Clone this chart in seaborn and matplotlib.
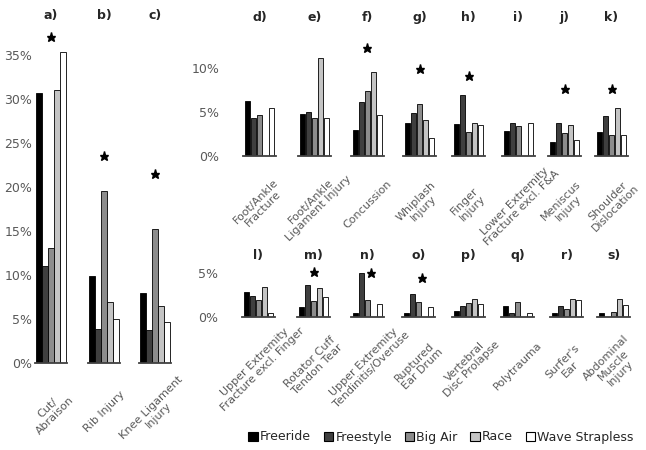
import pandas as pd
import matplotlib.pyplot as plt
import seaborn as sns
from matplotlib.patches import Patch

sns.set_style('white')
plt.rcParams['font.family'] = ['DejaVu Sans']

# --- data (percent of injuries per discipline) ---
panels = ['a)', 'b)', 'c)', 'd)', 'e)', 'f)', 'g)', 'h)', 'i)', 'j)', 'k)',
          'l)', 'm)', 'n)', 'o)', 'p)', 'q)', 'r)', 's)']
injuries = ['Cut/\nAbraison', 'Rib Injury', 'Knee Ligament\nInjury',
            'Foot/Ankle\nFracture', 'Foot/Ankle\nLigament Injury', 'Concussion',
            'Whiplash\nInjury', 'Finger\nInjury', 'Lower Extremity\nFracture excl. F&A',
            'Meniscus\nInjury', 'Shoulder\nDislocation',
            'Upper Extremity\nFracture excl. Finger', 'Rotator Cuff\nTendon Tear',
            'Upper Extremity\nTendinitis/Overuse', 'Ruptured\nEar Drum',
            'Vertebral\nDisc Prolapse', 'Polytrauma', "Surfer's\nEar",
            'Abdominal\nMuscle\nInjury']
disciplines = ['Freeride', 'Freestyle', 'Big Air', 'Race', 'Wave Strapless']
freeride = [30.7, 9.9, 8.0, 6.3, 4.8, 3.0, 3.7, 3.6, 2.8, 1.6, 2.7,
            2.9, 1.1, 0.5, 0.5, 0.7, 1.3, 0.5, 0.5]
freestyle = [11.0, 3.9, 3.8, 4.3, 5.0, 6.1, 4.9, 6.9, 3.8, 3.8, 4.5,
             2.4, 3.7, 5.1, 2.6, 1.3, 0.5, 1.3, 0.0]
big_air = [13.1, 19.5, 15.2, 4.7, 4.3, 7.4, 5.9, 2.7, 3.4, 2.6, 2.4,
           1.9, 1.8, 1.9, 1.7, 1.6, 1.7, 0.9, 0.6]
race = [31.0, 6.9, 6.5, 0.0, 11.1, 9.6, 4.1, 3.8, 0.0, 3.5, 5.4,
        3.5, 3.3, 0.0, 0.0, 2.1, 0.0, 2.1, 2.1]
wave = [35.3, 5.0, 4.6, 5.4, 4.3, 4.7, 2.1, 3.5, 3.7, 1.8, 2.4,
        0.5, 2.3, 1.5, 1.1, 1.5, 0.5, 2.0, 1.4]
# significance stars: height (%) and bar slot, None = no star
star_y = [37, 23.5, 21.5, None, None, 12.3, 9.9, 9.1, None, 7.65, 7.65,
          None, 5.2, 5.1, 4.5, None, None, None, None]
star_x = [2, 2, 2, 2, 2, 2, 2, 2, 2, 2, 2, 2, 2, 2.5, 2.5, 2, 2, 2, 2]

colors = ['#000000', '#3f3f3f', '#8c8c8c', '#c4c4c4', '#ffffff']
text_grey = '#595959'

W, H = 646, 450
fig = plt.figure(figsize=(W / 100, H / 100), dpi=100)

# layout in pixels: (baseline y, px per %, ymax, panel letter y)
lefts = [35, 88, 139,
         243, 298, 351, 403, 452, 502, 548, 595,
         242, 297, 351, 402, 452, 501, 550, 597]
rows = [(363, 8.81, 38, 16)] * 3 + [(156, 8.8, 13, 17)] * 8 + [(317, 8.7, 6, 256)] * 8
first_of_row = {0: [0, 5, 10, 15, 20, 25, 30, 35], 3: [0, 5, 10], 11: [0, 5]}

for i, name in enumerate(injuries):
    base, ppp, ymax, title_y = rows[i]
    width = 32 if i < 3 else 33
    h = ymax * ppp
    ax = fig.add_axes([lefts[i] / W, (H - base) / H, width / W, h / H])
    df = pd.DataFrame({'discipline': disciplines,
                       'value': [freeride[i], freestyle[i], big_air[i], race[i], wave[i]]})
    sns.barplot(data=df, x='discipline', y='value', hue='discipline',
                palette=colors, order=disciplines, hue_order=disciplines,
                width=0.9, edgecolor='black', linewidth=0.6, legend=False, ax=ax)
    ax.set_xlim(-0.7, 4.7)
    ax.set_ylim(0, ymax)
    ax.set_xlabel('')
    ax.set_ylabel('')
    for s in ['left', 'top', 'right']:
        ax.spines[s].set_visible(False)
    ax.spines['bottom'].set_color('#404040')
    ax.spines['bottom'].set_linewidth(1.3)
    ax.set_xticks([2])
    ax.set_xticklabels([name], rotation=45, rotation_mode='anchor',
                       ha='center', va='center', fontsize=8, color=text_grey,
                       linespacing=1.05)
    ax.tick_params(axis='x', length=0, pad=35)
    if i in first_of_row:
        ticks = first_of_row[i]
        ax.set_yticks(ticks)
        ax.set_yticklabels([f'{t}%' for t in ticks], fontsize=9, color=text_grey)
        ax.tick_params(axis='y', length=0, pad=2 if i == 0 else 17)
    else:
        ax.set_yticks([])
    if star_y[i] is not None:
        ax.plot(star_x[i], star_y[i], marker='*', color='black', markersize=6.5,
                clip_on=False)
    fig.text((lefts[i] + width / 2) / W, 1 - title_y / H, panels[i],
             ha='center', va='center', fontsize=9, fontweight='bold')

handles = [Patch(facecolor=c, edgecolor='black', linewidth=0.8) for c in colors]
fig.legend(handles, disciplines, loc='center', bbox_to_anchor=(441 / W, 1 - 437 / H),
           ncol=5, frameon=False, fontsize=9, handlelength=0.75, handleheight=0.75,
           handletextpad=0.2, columnspacing=1.0)

fig.savefig('out.png', dpi=100)
